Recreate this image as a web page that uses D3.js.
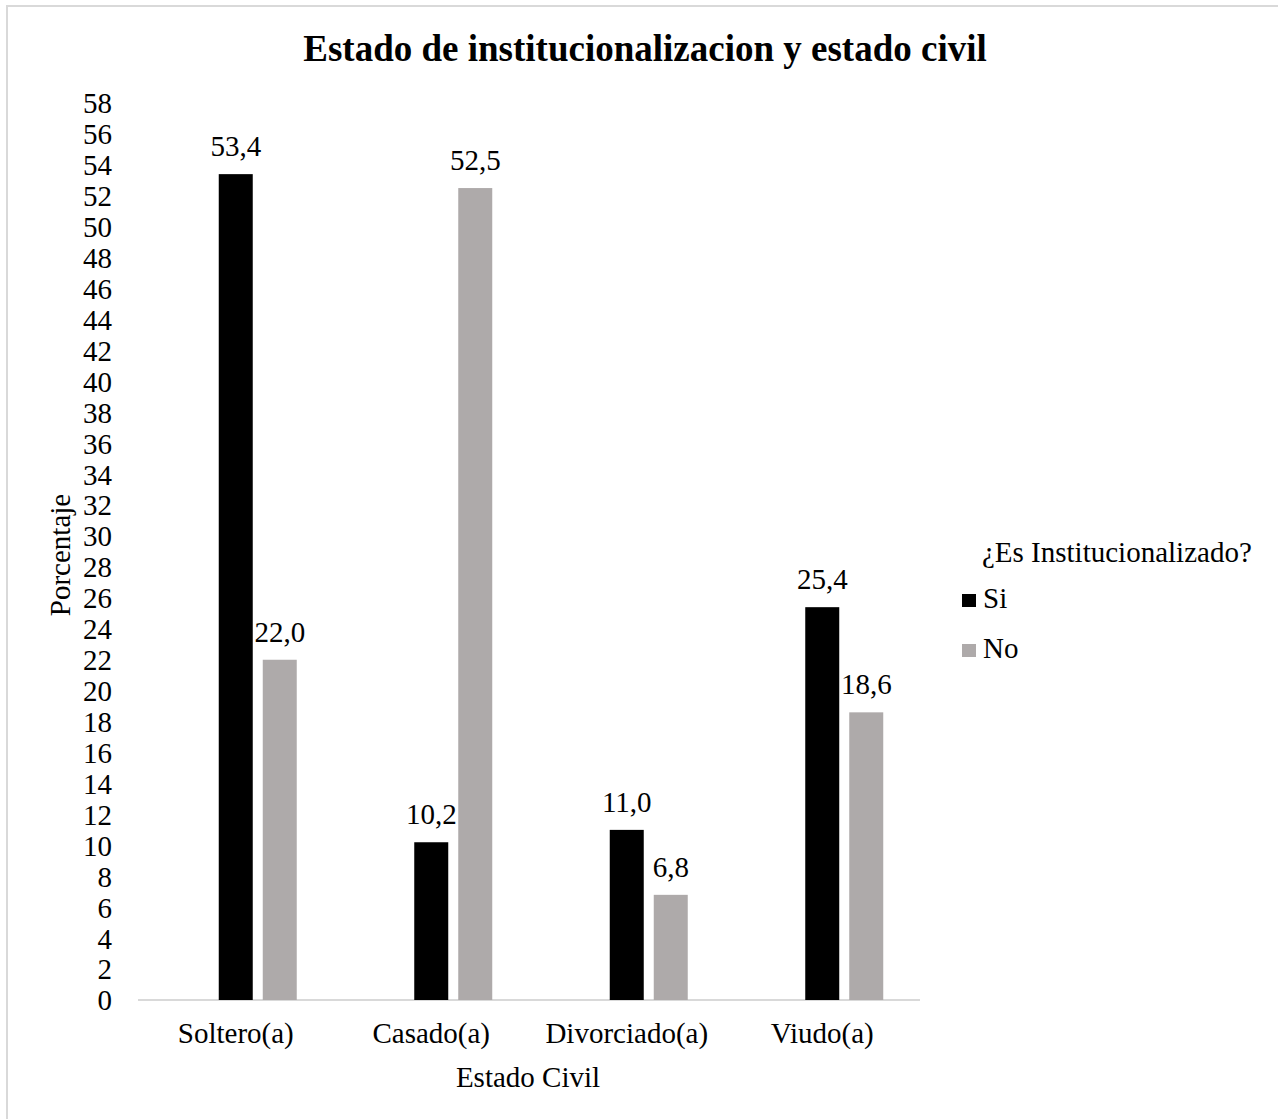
<!DOCTYPE html>
<html>
<head>
<meta charset="utf-8">
<script src="https://cdn.jsdelivr.net/npm/d3@7"></script>
<style>
  html, body { margin: 0; padding: 0; background: #fff; overflow: hidden; }
  svg { display: block; }
  svg text { font-family: "Liberation Serif", "Times New Roman", serif; fill: #000; }
</style>
</head>
<body>
<svg id="chart" width="1278" height="1119"></svg>
<script>
// Marital status categories and the share (%) in each group
const categories = ["Soltero(a)", "Casado(a)", "Divorciado(a)", "Viudo(a)"];
const seriesNames = ["Si", "No"];
const valuesSi = [53.4, 10.2, 11.0, 25.4];
const valuesNo = [22.0, 52.5, 6.8, 18.6];
const yTicks = d3.range(0, 59, 2);
const seriesColors = ["#000000", "#aeaaaa"];

const svg = d3.select("#chart");

// outer frame: only the top and left edges fall inside the page
svg.append("path")
  .attr("d", "M7,1119V6H1278")
  .attr("fill", "none").attr("stroke", "#d9d9d9").attr("stroke-width", 2);

const plot = { left: 138, right: 920, top: 103, bottom: 1000 };

const x0 = d3.scaleBand().domain(categories).range([plot.left, plot.right]).padding(0);
// each category slot holds three bar positions; the two series use the 2nd and 3rd
const slotScale = d3.scaleBand().domain(["", ...seriesNames])
  .range([0, x0.bandwidth()]).paddingInner(10 / 44).paddingOuter(((x0.bandwidth() - 122) / 2 + 5) / 44 - 0.5 * (10/44) );
const y = d3.scaleLinear().domain([0, 58]).range([plot.bottom, plot.top]);

const rows = categories.map((c, i) => ({ cat: c, vals: [valuesSi[i], valuesNo[i]] }));

// title
svg.append("text")
  .attr("x", 645).attr("y", 61)
  .attr("text-anchor", "middle")
  .style("font-size", "37px").style("font-weight", "bold")
  .text("Estado de institucionalizacion y estado civil");

// y axis labels (no line, no ticks)
const yAxis = d3.axisLeft(y).tickValues(yTicks).tickSize(0).tickPadding(0).tickFormat(d3.format("d"));
const gy = svg.append("g").attr("transform", `translate(112,0)`).call(yAxis);
gy.select(".domain").remove();
gy.selectAll("text").style("font-size", "29px").attr("dy", "0.34em").attr("font-family", null);

// x axis baseline and category labels
const xAxis = d3.axisBottom(x0).tickSize(0).tickPadding(0);
const gx = svg.append("g").attr("transform", `translate(0,${plot.bottom})`).call(xAxis);
gx.select(".domain").attr("stroke", "#d9d9d9").attr("stroke-width", 2)
  .attr("d", `M${plot.left},0H${plot.right}`);
gx.selectAll("text").style("font-size", "29px").attr("y", 43).attr("dy", null).attr("font-family", null);

// bars
const groups = svg.append("g").selectAll("g").data(rows).join("g")
  .attr("transform", d => `translate(${x0(d.cat)},0)`);

groups.selectAll("rect")
  .data(d => d.vals.map((v, k) => ({ key: seriesNames[k], v, k })))
  .join("rect")
  .attr("x", d => slotScale(d.key))
  .attr("width", slotScale.bandwidth())
  .attr("y", d => y(d.v))
  .attr("height", d => y(0) - y(d.v))
  .attr("fill", d => seriesColors[d.k]);

// value labels
const fmt = v => d3.format(".1f")(v).replace(".", ",");
groups.selectAll("text.val")
  .data(d => d.vals.map((v, k) => ({ key: seriesNames[k], v, k })))
  .join("text").attr("class", "val")
  .attr("x", d => slotScale(d.key) + slotScale.bandwidth() / 2)
  .attr("y", d => y(d.v) - 18)
  .attr("text-anchor", "middle")
  .style("font-size", "29px")
  .text(d => fmt(d.v));

// axis titles
svg.append("text")
  .attr("transform", "translate(70,555) rotate(-90)")
  .attr("text-anchor", "middle")
  .style("font-size", "29px")
  .text("Porcentaje");

svg.append("text")
  .attr("x", 528).attr("y", 1087)
  .attr("text-anchor", "middle")
  .style("font-size", "29px")
  .text("Estado Civil");

// legend
const legend = svg.append("g");
legend.append("text")
  .attr("x", 982).attr("y", 562)
  .style("font-size", "29px")
  .text("¿Es Institucionalizado?");
const items = legend.selectAll("g.item").data(seriesNames).join("g").attr("class", "item")
  .attr("transform", (d, i) => `translate(962,${594 + i * 50})`);
items.append("rect").attr("width", 14).attr("height", 13)
  .attr("fill", (d, i) => seriesColors[i]);
items.append("text").attr("x", 21).attr("y", 14)
  .style("font-size", "29px").text(d => d);
</script>
</body>
</html>
